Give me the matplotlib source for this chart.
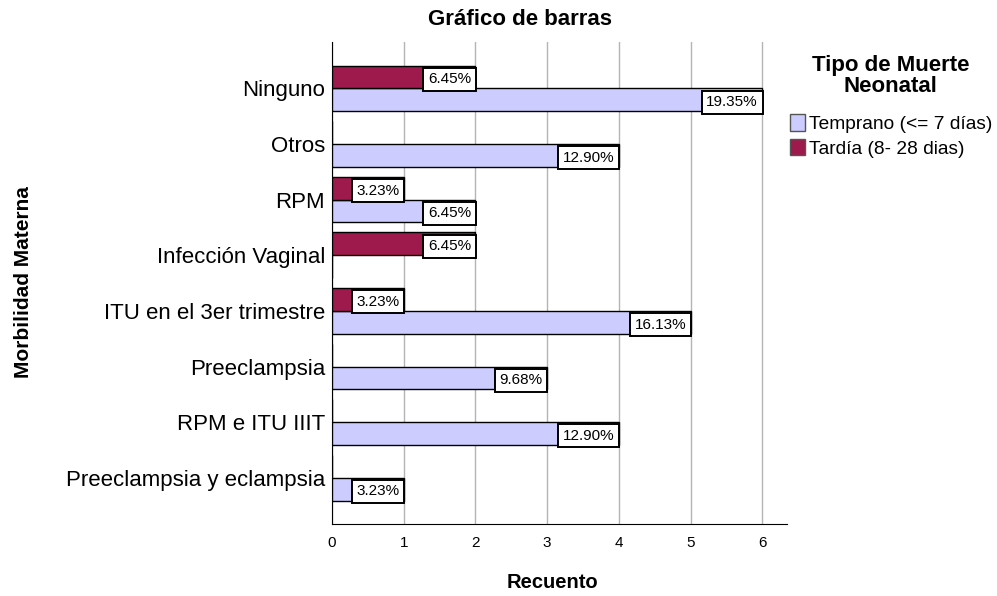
import matplotlib
matplotlib.use("Agg")
import matplotlib.pyplot as plt
import numpy as np
from matplotlib.patches import Patch

plt.rcParams['font.family'] = ['Liberation Sans', 'DejaVu Sans']

categorias = ["Ninguno", "Otros", "RPM", "Infección Vaginal",
              "ITU en el 3er trimestre", "Preeclampsia", "RPM e ITU IIIT",
              "Preeclampsia y eclampsia"]
temprano = [6, 4, 2, 0, 5, 3, 4, 1]
tardia = [2, 0, 1, 2, 1, 0, 0, 0]
pct_temprano = ["19.35%", "12.90%", "6.45%", "", "16.13%", "9.68%", "12.90%", "3.23%"]
pct_tardia = ["6.45%", "", "3.23%", "6.45%", "3.23%", "", "", ""]

col_temp = "#CCCCFF"
col_tard = "#9E1A4C"

fig = plt.figure(figsize=(9.97, 5.96), dpi=100)
ax = fig.add_axes([0.333, 0.121, 0.456, 0.808])

y = np.arange(len(categorias))
h = 0.41
ax.barh(y + h / 2, temprano, height=h, color=col_temp, edgecolor="black", linewidth=1, zorder=3)
ax.barh(y - h / 2, tardia, height=h, color=col_tard, edgecolor="black", linewidth=1, zorder=3)

def etiquetas(vals, txts, yy):
    for v, t, yc in zip(vals, txts, yy):
        if v == 0 or not t:
            continue
        ax.text(v - 0.06, yc + 0.04, t, ha="right", va="center", fontsize=11, zorder=5,
                bbox=dict(boxstyle="square,pad=0.3", fc="white", ec="black", lw=1.4))

etiquetas(temprano, pct_temprano, y + h / 2)
etiquetas(tardia, pct_tardia, y - h / 2)

ax.set_ylim(len(categorias) - 1 + 0.83, -0.83)
ax.set_xlim(0, 6.34)
ax.set_yticks(y)
ax.set_yticklabels(categorias, fontsize=16)
ax.tick_params(axis="y", length=0, pad=5)
ax.tick_params(axis="x", length=0, labelsize=11, pad=9)
ax.set_xticks(range(7))
ax.grid(axis="x", color="#b4b4b4", linewidth=1, zorder=0)
for s in ["top", "right"]:
    ax.spines[s].set_visible(False)
ax.spines["left"].set_color("black")
ax.spines["bottom"].set_color("black")

ax.set_xlabel("Recuento", fontsize=14.5, fontweight="bold")
ax.set_ylabel("Morbilidad Materna", fontsize=15, fontweight="bold")
ax.xaxis.set_label_coords(0.484, -0.102)
ax.yaxis.set_label_coords(-0.657, 0.503)
fig.text(0.522, 0.968, "Gráfico de barras", ha="center", va="center", fontsize=16, fontweight="bold")

# legend title drawn separately so it can sit centred above the entries
fig.text(0.893, 0.873, "Tipo de Muerte\nNeonatal", ha="center", va="center",
         fontsize=16, fontweight="bold", linespacing=1.0)
handles = [Patch(facecolor=col_temp, edgecolor="#555555"),
           Patch(facecolor=col_tard, edgecolor="#555555")]
fig.legend(handles, ["Temprano (<= 7 días)", "Tardía (8- 28 dias)"],
           loc="upper left", bbox_to_anchor=(0.779, 0.831), frameon=False, fontsize=13.8,
           handlelength=0.8, handleheight=0.95, handletextpad=0.2,
           labelspacing=0.3, borderpad=0.2)

fig.savefig("out.png", dpi=100)
